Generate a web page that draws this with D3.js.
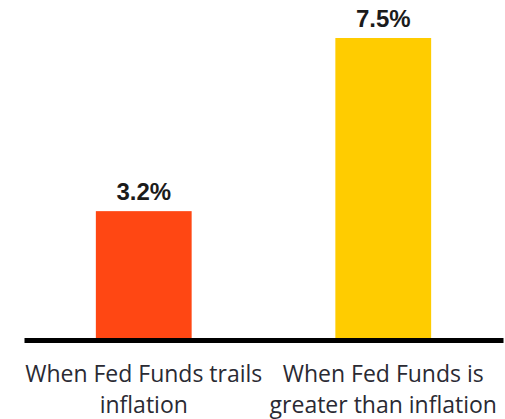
<!DOCTYPE html>
<html>
<head>
<meta charset="utf-8">
<script src="https://cdn.jsdelivr.net/npm/d3@7"></script>
<style>
  html, body { margin: 0; padding: 0; background: #fff; }
  svg { display: block; }
</style>
</head>
<body>
<svg id="chart" width="505" height="419"></svg>
<script>
// Average return by Fed Funds regime
const categories = [
  ["When Fed Funds trails", "inflation"],
  ["When Fed Funds is", "greater than inflation"]
];
const values = [3.2, 7.5];
const valueLabels = ["3.2%", "7.5%"];
const barColors = ["#FF4713", "#FFCC00"];

const svg = d3.select("#chart");

const x = d3.scaleBand()
  .domain(d3.range(values.length))
  .range([24, 503])
  .paddingInner(0.6)
  .paddingOuter(0.3);

const y = d3.scaleLinear()
  .domain([0, 7.5])
  .range([340, 38]);

// bars
svg.append("g")
  .selectAll("rect")
  .data(values)
  .join("rect")
  .attr("x", (d, i) => x(i))
  .attr("width", x.bandwidth())
  .attr("y", d => y(d))
  .attr("height", d => y(0) - y(d))
  .attr("fill", (d, i) => barColors[i]);

// value labels above bars
svg.append("g")
  .selectAll("text")
  .data(values)
  .join("text")
  .attr("x", (d, i) => x(i) + x.bandwidth() / 2)
  .attr("y", d => y(d) - 11)
  .attr("text-anchor", "middle")
  .attr("font-family", "'Liberation Sans', Arial, sans-serif")
  .attr("font-weight", "bold")
  .attr("font-size", 24)
  .attr("fill", "#1b1b1b")
  .text((d, i) => valueLabels[i]);

// baseline axis
const xAxis = d3.axisBottom(x).tickSize(0).tickFormat("");
const axisG = svg.append("g")
  .attr("transform", `translate(0,${y(0)})`)
  .call(xAxis);
axisG.select(".domain")
  .attr("stroke", "#000")
  .attr("stroke-width", 5);

// category labels, two lines each
const cat = svg.append("g")
  .selectAll("text")
  .data(categories)
  .join("text")
  .attr("text-anchor", "middle")
  .attr("font-family", "'Open Sans', 'Noto Sans', sans-serif")
  .attr("font-size", 23)
  .attr("fill", "#2a2a33")
  .attr("transform", (d, i) => `translate(${x(i) + x.bandwidth() / 2},${y(0) + 42}) scale(1,1.06)`);

cat.selectAll("tspan")
  .data(d => d)
  .join("tspan")
  .attr("x", 0)
  .attr("dy", (d, j) => j === 0 ? 0 : 29)
  .text(d => d);
</script>
</body>
</html>
